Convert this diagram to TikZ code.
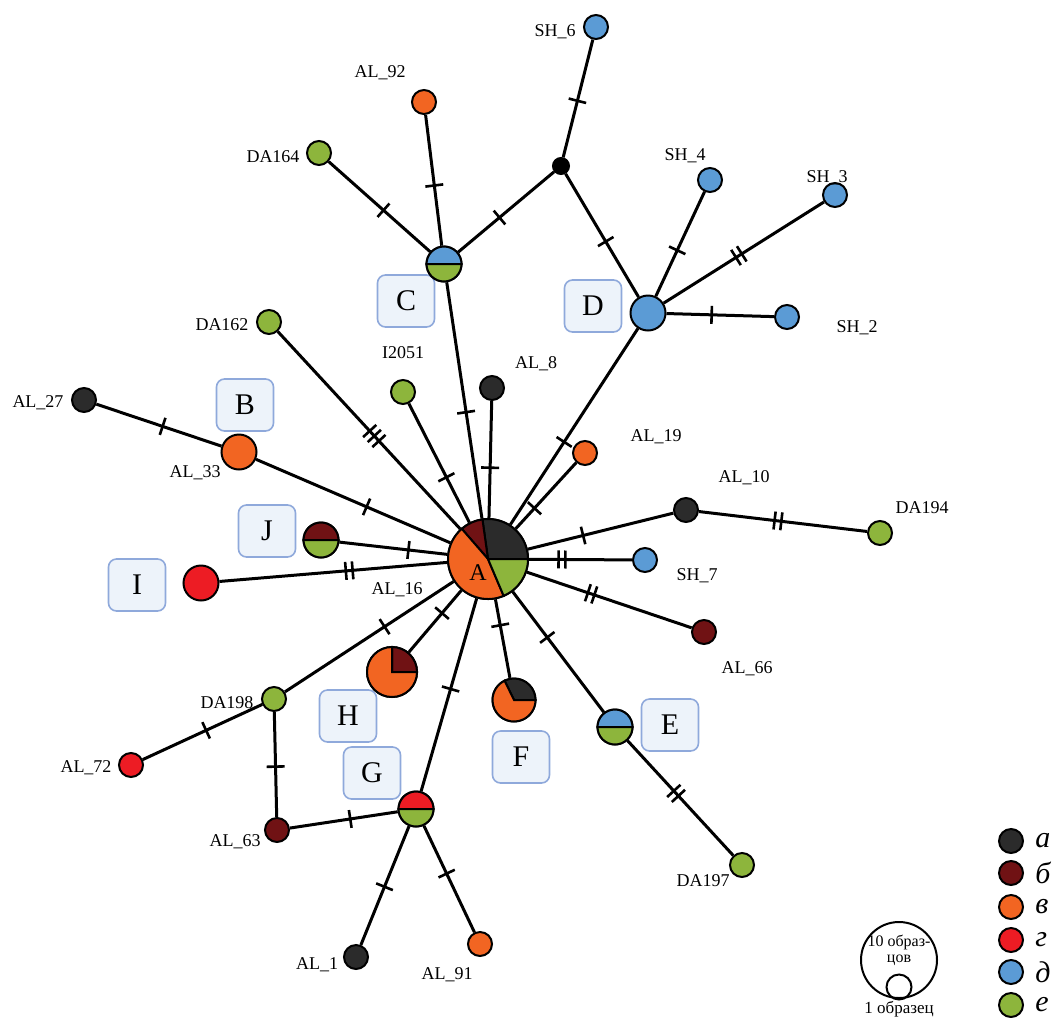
\documentclass[tikz,border=0pt]{standalone}
\usepackage{fontspec}
\setmainfont{Liberation Serif}
\usetikzlibrary{positioning,decorations.markings}
\definecolor{grpa}{HTML}{2B2B2B}
\definecolor{grpb}{HTML}{701214}
\definecolor{grpv}{HTML}{F26522}
\definecolor{grpg}{HTML}{ED1C24}
\definecolor{grpd}{HTML}{5B9BD5}
\definecolor{grpe}{HTML}{8DB53C}
\definecolor{boxline}{HTML}{8FA9DB}
\definecolor{boxfill}{HTML}{EDF3FA}
\newcommand{\pieslice}[5]{\filldraw[fill=#1,line width=1pt] (#2) -- ++(#4:#3) arc[start angle=#4,end angle=#5,radius=#3] -- cycle;}

\begin{document}
\begin{tikzpicture}[x=0.5pt,y=0.5pt]
 \tikzset{hap/.style={circle,draw,line width=1pt,inner sep=0pt,minimum size=12pt},
  lab/.style={inner sep=0pt,font=\fontsize{9}{10}\selectfont},
  grpbox/.style={draw=boxline,fill=boxfill,rounded corners=4pt,line width=0.8pt,
   minimum width=28.5pt,minimum height=26pt,font=\fontsize{15}{18}\selectfont},
  edge/.style={line width=1.5pt},
  onetick/.style={postaction={decorate,decoration={markings,
   mark=at position #1 with {\draw[line width=1.3pt] (0,-4.5pt) -- (0,4.5pt);}}}},
  twoticks/.style={postaction={decorate,decoration={markings,
   mark=at position #1 with {\draw[line width=1.3pt] (-1.7pt,-4.5pt) -- (-1.7pt,4.5pt) (1.7pt,-4.5pt) -- (1.7pt,4.5pt);}}}},
  threeticks/.style={postaction={decorate,decoration={markings,
   mark=at position #1 with {\draw[line width=1.3pt] (-3.4pt,-4.5pt) -- (-3.4pt,4.5pt) (0,-4.5pt) -- (0,4.5pt) (3.4pt,-4.5pt) -- (3.4pt,4.5pt);}}}}}
 \useasboundingbox (0,0) rectangle (1058,-1017);

 \node[grpbox] (boxB) at (245,-405) {B};
 \node[grpbox] (boxC) at (406,-301) {C};
 \node[grpbox] (boxD) at (593,-306) {D};
 \node[grpbox] (boxE) at (670,-725) {E};
 \node[grpbox] (boxF) at (521,-757) {F};
 \node[grpbox] (boxG) at (372,-773) {G};
 \node[grpbox] (boxH) at (348,-716) {H};
 \node[grpbox] (boxI) at (137,-585) {I};
 \node[grpbox] (boxJ) at (267,-531) {J};

 \node[hap,minimum size=40pt] (A) at (488,-559) {};
 \node[hap,minimum size=17.5pt] (C) at (444,-264) {};
 \node[hap,minimum size=17.5pt,fill=grpd] (D) at (648,-313) {};
 \node[hap,minimum size=17.5pt] (J) at (321,-540) {};
 \node[hap,minimum size=17.5pt] (E) at (615,-727) {};
 \node[hap,minimum size=17.5pt] (G) at (416,-809) {};
 \node[hap,minimum size=25pt] (H) at (392,-672) {};
 \node[hap,minimum size=21.5pt] (F) at (514,-700) {};
 \node[hap,minimum size=17.5pt,fill=grpv] (AL33) at (239,-452) {};
 \node[hap,minimum size=17.5pt,fill=grpg] (I) at (201,-583) {};
 \node[hap,minimum size=8pt,fill=black] (med) at (561,-166) {};

 \node[hap,fill=grpd] (SH6) at (596,-27) {};
 \node[hap,fill=grpd] (SH4) at (710,-180) {};
 \node[hap,fill=grpd] (SH3) at (835,-195) {};
 \node[hap,fill=grpd] (SH2) at (787,-317) {};
 \node[hap,fill=grpd] (SH7) at (645,-560) {};
 \node[hap,fill=grpv] (AL92) at (424,-102) {};
 \node[hap,fill=grpe] (DA164) at (319,-153) {};
 \node[hap,fill=grpe] (DA162) at (269,-322) {};
 \node[hap,fill=grpe] (I2051) at (403,-392) {};
 \node[hap,fill=grpa] (AL8) at (492,-388) {};
 \node[hap,fill=grpa] (AL27) at (84,-400) {};
 \node[hap,fill=grpv] (AL19) at (585,-453) {};
 \node[hap,fill=grpa] (AL10) at (686,-510) {};
 \node[hap,fill=grpe] (DA194) at (880,-533) {};
 \node[hap,fill=grpb] (AL66) at (704,-632) {};
 \node[hap,fill=grpe] (DA197) at (742,-865) {};
 \node[hap,fill=grpe] (DA198) at (274,-699) {};
 \node[hap,fill=grpg] (AL72) at (131,-765) {};
 \node[hap,fill=grpb] (AL63) at (277,-830) {};
 \node[hap,fill=grpa] (AL1) at (356,-957) {};
 \node[hap,fill=grpv] (AL91) at (480,-944) {};

 \pieslice{grpa}{A.center}{20pt}{0}{98}
 \pieslice{grpb}{A.center}{20pt}{98}{131}
 \pieslice{grpv}{A.center}{20pt}{131}{293}
 \pieslice{grpe}{A.center}{20pt}{293}{360}
 \node[inner sep=0pt,font=\fontsize{12}{14}\selectfont] (Atxt) at (478,-573) {A};
 \pieslice{grpd}{C.center}{8.75pt}{0}{180}
 \pieslice{grpe}{C.center}{8.75pt}{180}{360}
 \pieslice{grpb}{J.center}{8.75pt}{0}{180}
 \pieslice{grpe}{J.center}{8.75pt}{180}{360}
 \pieslice{grpd}{E.center}{8.75pt}{0}{180}
 \pieslice{grpe}{E.center}{8.75pt}{180}{360}
 \pieslice{grpg}{G.center}{8.75pt}{0}{180}
 \pieslice{grpe}{G.center}{8.75pt}{180}{360}
 \pieslice{grpb}{H.center}{12.5pt}{0}{90}
 \pieslice{grpv}{H.center}{12.5pt}{90}{360}
 \pieslice{grpa}{F.center}{10.75pt}{0}{116}
 \pieslice{grpv}{F.center}{10.75pt}{116}{360}

 \draw[edge,onetick=0.52] (SH6) -- (med);
 \draw[edge,onetick=0.57] (med) -- (C);
 \draw[edge,onetick=0.55] (med) -- (D);
 \draw[edge,onetick=0.54] (AL92) -- (C);
 \draw[edge,onetick=0.54] (DA164) -- (C);
 \draw[edge,onetick=0.55] (C) -- (A);
 \draw[edge,onetick=0.44] (D) -- (SH4);
 \draw[edge,twoticks=0.47] (D) -- (SH3);
 \draw[edge,onetick=0.42] (D) -- (SH2);
 \draw[edge,onetick=0.58] (D) -- (A);
 \draw[edge,threeticks=0.53] (DA162) -- (A);
 \draw[edge,onetick=0.62] (I2051) -- (A);
 \draw[edge,onetick=0.57] (AL8) -- (A);
 \draw[edge,onetick=0.53] (AL27) -- (AL33);
 \draw[edge,onetick=0.57] (AL33) -- (A);
 \draw[edge,onetick=0.64] (J) -- (A);
 \draw[edge,twoticks=0.57] (I) -- (A);
 \draw[edge,onetick=0.69] (AL19) -- (A);
 \draw[edge,onetick=0.38] (A) -- (AL10);
 \draw[edge,twoticks=0.47] (AL10) -- (DA194);
 \draw[edge,twoticks=0.32] (A) -- (SH7);
 \draw[edge,twoticks=0.39] (A) -- (AL66);
 \draw[edge,onetick=0.38] (A) -- (E);
 \draw[edge,twoticks=0.46] (E) -- (DA197);
 \draw[edge,onetick=0.33] (A) -- (F);
 \draw[edge,onetick=0.37] (A) -- (H);
 \draw[edge,onetick=0.41] (A) -- (DA198);
 \draw[edge,onetick=0.47] (DA198) -- (AL72);
 \draw[edge,onetick=0.52] (DA198) -- (AL63);
 \draw[edge,onetick=0.56] (AL63) -- (G);
 \draw[edge,onetick=0.47] (A) -- (G);
 \draw[edge,onetick=0.51] (G) -- (AL1);
 \draw[edge,onetick=0.45] (G) -- (AL91);

 \node[lab] (tSH6) at (555,-32) {SH\_6};
 \node[lab] (tSH4) at (685,-156) {SH\_4};
 \node[lab] (tSH3) at (827,-178) {SH\_3};
 \node[lab] (tSH2) at (857,-328) {SH\_2};
 \node[lab] (tSH7) at (697,-576) {SH\_7};
 \node[lab] (tAL92) at (380,-73) {AL\_92};
 \node[lab] (tDA164) at (273,-157) {DA164};
 \node[lab] (tDA162) at (222,-325) {DA162};
 \node[lab] (tI2051) at (403,-353) {I2051};
 \node[lab] (tAL8) at (536,-364) {AL\_8};
 \node[lab] (tAL27) at (38,-403) {AL\_27};
 \node[lab] (tAL33) at (195,-473) {AL\_33};
 \node[lab] (tAL19) at (656,-437) {AL\_19};
 \node[lab] (tAL10) at (744,-478) {AL\_10};
 \node[lab] (tDA194) at (922,-508) {DA194};
 \node[lab] (tAL16) at (397,-590) {AL\_16};
 \node[lab] (tAL66) at (747,-669) {AL\_66};
 \node[lab] (tDA198) at (227,-703) {DA198};
 \node[lab] (tAL72) at (86,-768) {AL\_72};
 \node[lab] (tAL63) at (235,-842) {AL\_63};
 \node[lab] (tDA197) at (703,-881) {DA197};
 \node[lab] (tAL1) at (317,-965) {AL\_1};
 \node[lab] (tAL91) at (447,-975) {AL\_91};

 \node[hap,minimum size=38pt] (size10) at (899,-960) {};
 \node[hap,minimum size=12.5pt] (size1) at (899,-987) {};
 \node[lab,align=center,font=\fontsize{8}{8}\selectfont] (tsize10) at (899,-950) {10 образ-\\цов};
 \node[lab,font=\fontsize{8.5}{9}\selectfont] (tsize1) at (899,-1009) {1 образец};

 \node[hap,fill=grpa] (keya) at (1011,-841) {};
 \node[hap,fill=grpb] (keyb) at (1011,-873) {};
 \node[hap,fill=grpv] (keyv) at (1011,-907) {};
 \node[hap,fill=grpg] (keyg) at (1011,-940) {};
 \node[hap,fill=grpd] (keyd) at (1011,-972) {};
 \node[hap,fill=grpe] (keye) at (1011,-1005) {};
 \node[lab,anchor=west,font=\fontsize{15}{16}\itshape] (tkeya) at (1035,-841) {а};
 \node[lab,anchor=west,font=\fontsize{15}{16}\itshape] (tkeyb) at (1035,-873) {б};
 \node[lab,anchor=west,font=\fontsize{15}{16}\itshape] (tkeyv) at (1035,-907) {в};
 \node[lab,anchor=west,font=\fontsize{15}{16}\itshape] (tkeyg) at (1035,-940) {г};
 \node[lab,anchor=west,font=\fontsize{15}{16}\itshape] (tkeyd) at (1035,-972) {д};
 \node[lab,anchor=west,font=\fontsize{15}{16}\itshape] (tkeye) at (1035,-1005) {е};
\end{tikzpicture}
\end{document}
